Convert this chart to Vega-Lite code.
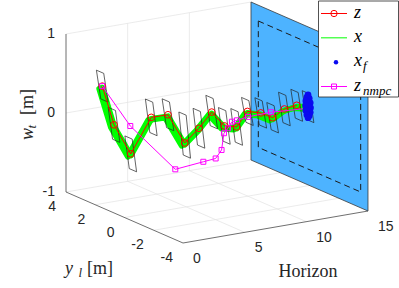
{
  "$schema": "https://vega.github.io/schema/vega-lite/v6.json",
  "width": 399,
  "height": 288,
  "autosize": {"type": "none"},
  "padding": 0,
  "config": {"view": {"stroke": null}},
  "resolve": {"scale": {"y": "independent"}},
  "datasets": {
    "z": [
      {"H":0,"Y":1.52,"W":0.54},{"H":1,"Y":1.56,"W":0.02},{"H":2,"Y":1.26,"W":-0.35},{"H":3,"Y":0.70,"W":0.13},
      {"H":4,"Y":0.40,"W":0.16},{"H":5,"Y":0.10,"W":-0.20},{"H":6,"Y":-0.03,"W":-0.03},{"H":7,"Y":-0.06,"W":0.15},
      {"H":8,"Y":-0.08,"W":-0.05},{"H":9,"Y":-0.08,"W":-0.09},{"H":10,"Y":0.03,"W":0.07},{"H":11,"Y":-0.04,"W":0.03},
      {"H":12,"Y":-0.01,"W":-0.06},{"H":13,"Y":0.03,"W":0.02},{"H":14,"Y":0.03,"W":0.04}
    ],
    "zn": [
      {"H":0,"Y":1.52,"W":0.54},{"H":2,"Y":1.29,"W":0.00},{"H":4,"Y":-0.10,"W":-0.49},{"H":6,"Y":-0.33,"W":-0.43},
      {"H":7,"Y":-0.33,"W":-0.415},{"H":8,"Y":0.11,"W":-0.37},{"H":9,"Y":0.79,"W":-0.24},{"H":10,"Y":1.36,"W":-0.25},
      {"H":11,"Y":1.93,"W":-0.24},{"H":12,"Y":2.43,"W":-0.29},{"H":13,"Y":2.52,"W":-0.28},{"H":14,"Y":1.79,"W":-0.19},
      {"H":15,"Y":0.24,"W":-0.045}
    ],
    "xg": [
      {"run":"a","H":0,"Y":1.52,"W":0.52},{"run":"a","H":1,"Y":1.56,"W":0.00},{"run":"a","H":2,"Y":1.26,"W":-0.37},{"run":"a","H":3,"Y":0.70,"W":0.11},
      {"run":"a","H":4,"Y":0.40,"W":0.14},{"run":"a","H":5,"Y":0.10,"W":-0.22},{"run":"a","H":6,"Y":-0.03,"W":-0.05},{"run":"a","H":7,"Y":-0.06,"W":0.13},
      {"run":"a","H":8,"Y":-0.08,"W":-0.07},{"run":"a","H":9,"Y":-0.08,"W":-0.11},{"run":"a","H":10,"Y":0.03,"W":0.05},{"run":"a","H":11,"Y":-0.04,"W":0.01},
      {"run":"a","H":12,"Y":-0.01,"W":-0.08},{"run":"a","H":13,"Y":0.03,"W":0.00},{"run":"a","H":14,"Y":0.03,"W":0.02},{"run":"a","H":15,"Y":0.10,"W":-0.01},
      {"run":"b","H":0,"Y":1.72,"W":0.49},{"run":"b","H":1,"Y":1.76,"W":-0.03},{"run":"b","H":2,"Y":1.46,"W":-0.40},{"run":"b","H":3,"Y":0.90,"W":0.08},
      {"run":"b","H":4,"Y":0.60,"W":0.11},{"run":"b","H":5,"Y":0.30,"W":-0.25},{"run":"b","H":6,"Y":0.17,"W":-0.08},{"run":"b","H":7,"Y":0.14,"W":0.10},
      {"run":"b","H":8,"Y":0.12,"W":-0.10},{"run":"b","H":9,"Y":0.12,"W":-0.14},{"run":"b","H":10,"Y":0.23,"W":0.02},{"run":"b","H":11,"Y":0.16,"W":-0.02},
      {"run":"b","H":12,"Y":0.19,"W":-0.11},{"run":"b","H":13,"Y":0.23,"W":-0.03},{"run":"b","H":14,"Y":0.23,"W":-0.01},{"run":"b","H":15,"Y":0.10,"W":-0.04}
    ],
    "tube": [
      {"H":0,"k":0,"Y":1.92,"W":0.71},{"H":0,"k":1,"Y":1.42,"W":0.71},{"H":0,"k":2,"Y":1.12,"W":0.37},{"H":0,"k":3,"Y":1.62,"W":0.37},
      {"H":1,"k":0,"Y":1.96,"W":0.21},{"H":1,"k":1,"Y":1.46,"W":0.21},{"H":1,"k":2,"Y":1.16,"W":-0.17},{"H":1,"k":3,"Y":1.66,"W":-0.17},
      {"H":2,"k":0,"Y":1.66,"W":-0.155},{"H":2,"k":1,"Y":1.16,"W":-0.155},{"H":2,"k":2,"Y":0.86,"W":-0.545},{"H":2,"k":3,"Y":1.36,"W":-0.545},
      {"H":3,"k":0,"Y":1.10,"W":0.33},{"H":3,"k":1,"Y":0.60,"W":0.33},{"H":3,"k":2,"Y":0.30,"W":-0.07},{"H":3,"k":3,"Y":0.80,"W":-0.07},
      {"H":4,"k":0,"Y":0.80,"W":0.33},{"H":4,"k":1,"Y":0.30,"W":0.33},{"H":4,"k":2,"Y":0.00,"W":-0.01},{"H":4,"k":3,"Y":0.50,"W":-0.01},
      {"H":5,"k":0,"Y":0.50,"W":0.16},{"H":5,"k":1,"Y":0.00,"W":0.16},{"H":5,"k":2,"Y":-0.30,"W":-0.36},{"H":5,"k":3,"Y":0.20,"W":-0.36},
      {"H":6,"k":0,"Y":0.37,"W":0.19},{"H":6,"k":1,"Y":-0.13,"W":0.19},{"H":6,"k":2,"Y":-0.43,"W":-0.25},{"H":6,"k":3,"Y":0.07,"W":-0.25},
      {"H":7,"k":0,"Y":0.34,"W":0.33},{"H":7,"k":1,"Y":-0.16,"W":0.33},{"H":7,"k":2,"Y":-0.46,"W":-0.03},{"H":7,"k":3,"Y":0.04,"W":-0.03},
      {"H":8,"k":0,"Y":0.32,"W":0.15},{"H":8,"k":1,"Y":-0.18,"W":0.15},{"H":8,"k":2,"Y":-0.48,"W":-0.25},{"H":8,"k":3,"Y":0.02,"W":-0.25},
      {"H":9,"k":0,"Y":0.32,"W":0.11},{"H":9,"k":1,"Y":-0.18,"W":0.11},{"H":9,"k":2,"Y":-0.48,"W":-0.29},{"H":9,"k":3,"Y":0.02,"W":-0.29},
      {"H":10,"k":0,"Y":0.43,"W":0.215},{"H":10,"k":1,"Y":-0.07,"W":0.215},{"H":10,"k":2,"Y":-0.37,"W":-0.075},{"H":10,"k":3,"Y":0.13,"W":-0.075},
      {"H":11,"k":0,"Y":0.36,"W":0.19},{"H":11,"k":1,"Y":-0.14,"W":0.19},{"H":11,"k":2,"Y":-0.44,"W":-0.13},{"H":11,"k":3,"Y":0.06,"W":-0.13},
      {"H":12,"k":0,"Y":0.39,"W":0.10},{"H":12,"k":1,"Y":-0.11,"W":0.10},{"H":12,"k":2,"Y":-0.41,"W":-0.22},{"H":12,"k":3,"Y":0.09,"W":-0.22},
      {"H":13,"k":0,"Y":0.43,"W":0.20},{"H":13,"k":1,"Y":-0.07,"W":0.20},{"H":13,"k":2,"Y":-0.37,"W":-0.16},{"H":13,"k":3,"Y":0.13,"W":-0.16},
      {"H":14,"k":0,"Y":0.43,"W":0.21},{"H":14,"k":1,"Y":-0.07,"W":0.21},{"H":14,"k":2,"Y":-0.37,"W":-0.13},{"H":14,"k":3,"Y":0.13,"W":-0.13},
      {"H":15,"k":0,"Y":0.50,"W":0.16},{"H":15,"k":1,"Y":0.00,"W":0.16},{"H":15,"k":2,"Y":-0.30,"W":-0.18},{"H":15,"k":3,"Y":0.20,"W":-0.18}
    ],
    "xf": [
      {"H":15,"Y":0.10,"W":0.14},{"H":15,"Y":0.02,"W":0.10},{"H":15,"Y":0.18,"W":0.10},{"H":15,"Y":-0.05,"W":0.05},
      {"H":15,"Y":0.10,"W":0.05},{"H":15,"Y":0.25,"W":0.05},{"H":15,"Y":-0.07,"W":-0.01},{"H":15,"Y":0.10,"W":-0.01},
      {"H":15,"Y":0.27,"W":-0.01},{"H":15,"Y":-0.05,"W":-0.07},{"H":15,"Y":0.10,"W":-0.07},{"H":15,"Y":0.25,"W":-0.07},
      {"H":15,"Y":0.02,"W":-0.12},{"H":15,"Y":0.18,"W":-0.12},{"H":15,"Y":0.10,"W":-0.15}
    ],
    "grid": [
      {"H1":5,"Y1":4,"W1":-1,"H2":5,"Y2":-4,"W2":-1},
      {"H1":10,"Y1":4,"W1":-1,"H2":10,"Y2":-4,"W2":-1},
      {"H1":0,"Y1":2,"W1":-1,"H2":15,"Y2":2,"W2":-1},
      {"H1":0,"Y1":0,"W1":-1,"H2":15,"Y2":0,"W2":-1},
      {"H1":0,"Y1":-2,"W1":-1,"H2":15,"Y2":-2,"W2":-1},
      {"H1":0,"Y1":4,"W1":-1,"H2":15,"Y2":4,"W2":-1},
      {"H1":5,"Y1":4,"W1":-1,"H2":5,"Y2":4,"W2":1},
      {"H1":10,"Y1":4,"W1":-1,"H2":10,"Y2":4,"W2":1},
      {"H1":0,"Y1":4,"W1":0,"H2":15,"Y2":4,"W2":0},
      {"H1":0,"Y1":4,"W1":1,"H2":15,"Y2":4,"W2":1}
    ],
    "axes": [
      {"H1":0,"Y1":4,"W1":-1,"H2":0,"Y2":4,"W2":1},
      {"H1":0,"Y1":4,"W1":-1,"H2":0,"Y2":-4,"W2":-1},
      {"H1":0,"Y1":-4,"W1":-1,"H2":15,"Y2":-4,"W2":-1}
    ],
    "plane": [{"H":15,"Y":4},{"H":15,"Y":-4}],
    "dash": [
      {"H":15,"Y":3.5,"W":0.8,"k":0},{"H":15,"Y":-3.5,"W":0.8,"k":1},
      {"H":15,"Y":-3.5,"W":-0.8,"k":2},{"H":15,"Y":3.5,"W":-0.8,"k":3}
    ],
    "wt": [{"H":0,"Y":4,"W":-1,"lab":"-1"},{"H":0,"Y":4,"W":0,"lab":"0"},{"H":0,"Y":4,"W":1,"lab":"1"}],
    "yl": [{"H":0,"Y":4,"W":-1,"lab":"4"},{"H":0,"Y":2,"W":-1,"lab":"2"},{"H":0,"Y":0,"W":-1,"lab":"0"},{"H":0,"Y":-2,"W":-1,"lab":"-2"},{"H":0,"Y":-4,"W":-1,"lab":"-4"}],
    "hz": [{"H":0,"Y":-4,"W":-1,"lab":"0"},{"H":5,"Y":-4,"W":-1,"lab":"5"},{"H":10,"Y":-4,"W":-1,"lab":"10"},{"H":15,"Y":-4,"W":-1,"lab":"15"}],
    "lblH": [{"H":7.5,"Y":-4,"W":-1}],
    "lblY": [{"H":0,"Y":0,"W":-1}],
    "lblW": [{"H":0,"Y":4,"W":0}],
    "leg": [
      {"s":"z","main":"z","sub":""},
      {"s":"x","main":"x","sub":""},
      {"s":"x_f","main":"x","sub":"f"},
      {"s":"z_nmpc","main":"z","sub":"nmpc"}
    ],
    "one": [{"a":1}]
  },
  "layer": [
    {
      "data": {"name": "grid"},
      "transform": [
        {"calculate": "66+12.333*datum.H1+14.625*(4-datum.Y1)", "as": "sx"},
        {"calculate": "192-2.133*datum.H1+6.375*(4-datum.Y1)-79*(datum.W1+1)", "as": "sy"},
        {"calculate": "66+12.333*datum.H2+14.625*(4-datum.Y2)", "as": "sx2"},
        {"calculate": "192-2.133*datum.H2+6.375*(4-datum.Y2)-79*(datum.W2+1)", "as": "sy2"}
      ],
      "mark": {"type": "rule", "stroke": "#e2e2e2", "strokeWidth": 0.7},
      "encoding": {
        "x": {"field": "sx", "type": "quantitative", "scale": {"domain": [0, 399], "nice": false, "zero": false}, "axis": null},
        "y": {"field": "sy", "type": "quantitative", "scale": {"domain": [0, 288], "nice": false, "zero": false, "reverse": true}, "axis": null},
        "x2": {"field": "sx2"},
        "y2": {"field": "sy2"}
      }
    },
    {
      "data": {"name": "axes"},
      "transform": [
        {"calculate": "66+12.333*datum.H1+14.625*(4-datum.Y1)", "as": "sx"},
        {"calculate": "192-2.133*datum.H1+6.375*(4-datum.Y1)-79*(datum.W1+1)", "as": "sy"},
        {"calculate": "66+12.333*datum.H2+14.625*(4-datum.Y2)", "as": "sx2"},
        {"calculate": "192-2.133*datum.H2+6.375*(4-datum.Y2)-79*(datum.W2+1)", "as": "sy2"}
      ],
      "mark": {"type": "rule", "stroke": "#4a4a4a", "strokeWidth": 0.8},
      "encoding": {
        "x": {"field": "sx", "type": "quantitative", "scale": {"domain": [0, 399], "nice": false, "zero": false}, "axis": null},
        "y": {"field": "sy", "type": "quantitative", "scale": {"domain": [0, 288], "nice": false, "zero": false, "reverse": true}, "axis": null},
        "x2": {"field": "sx2"},
        "y2": {"field": "sy2"}
      }
    },
    {
      "data": {"name": "plane"},
      "transform": [
        {"calculate": "66+12.333*datum.H+14.625*(4-datum.Y)", "as": "sx"},
        {"calculate": "192-2.133*datum.H+6.375*(4-datum.Y)-158", "as": "syT"},
        {"calculate": "192-2.133*datum.H+6.375*(4-datum.Y)", "as": "syB"}
      ],
      "mark": {"type": "area", "fill": "#4DB3FF", "stroke": "#3a3a3a", "strokeWidth": 0.8, "opacity": 1},
      "encoding": {
        "x": {"field": "sx", "type": "quantitative", "scale": {"domain": [0, 399], "nice": false, "zero": false}, "axis": null},
        "y": {"field": "syT", "type": "quantitative", "scale": {"domain": [0, 288], "nice": false, "zero": false, "reverse": true}, "axis": null},
        "y2": {"field": "syB"}
      }
    },
    {
      "data": {"name": "dash"},
      "transform": [
        {"calculate": "66+12.333*datum.H+14.625*(4-datum.Y)", "as": "sx"},
        {"calculate": "192-2.133*datum.H+6.375*(4-datum.Y)-79*(datum.W+1)", "as": "sy"}
      ],
      "mark": {"type": "line", "interpolate": "linear-closed", "stroke": "#1a1a1a", "strokeWidth": 1, "strokeDash": [6, 4]},
      "encoding": {
        "x": {"field": "sx", "type": "quantitative", "scale": {"domain": [0, 399], "nice": false, "zero": false}, "axis": null},
        "y": {"field": "sy", "type": "quantitative", "scale": {"domain": [0, 288], "nice": false, "zero": false, "reverse": true}, "axis": null},
        "order": {"field": "k", "type": "quantitative"}
      }
    },
    {
      "data": {"name": "xg"},
      "transform": [
        {"calculate": "66+12.333*datum.H+14.625*(4-datum.Y)", "as": "sx"},
        {"calculate": "192-2.133*datum.H+6.375*(4-datum.Y)-79*(datum.W+1)", "as": "sy"}
      ],
      "mark": {"type": "line", "stroke": "#00ff00", "strokeWidth": 6, "strokeJoin": "round", "strokeCap": "round"},
      "encoding": {
        "x": {"field": "sx", "type": "quantitative", "scale": {"domain": [0, 399], "nice": false, "zero": false}, "axis": null},
        "y": {"field": "sy", "type": "quantitative", "scale": {"domain": [0, 288], "nice": false, "zero": false, "reverse": true}, "axis": null},
        "detail": {"field": "run", "type": "nominal"},
        "order": {"field": "H", "type": "quantitative"}
      }
    },
    {
      "data": {"name": "tube"},
      "transform": [
        {"calculate": "66+12.333*datum.H+14.625*(4-datum.Y)", "as": "sx"},
        {"calculate": "192-2.133*datum.H+6.375*(4-datum.Y)-79*(datum.W+1)", "as": "sy"}
      ],
      "mark": {"type": "line", "interpolate": "linear-closed", "stroke": "#222222", "strokeWidth": 0.7},
      "encoding": {
        "x": {"field": "sx", "type": "quantitative", "scale": {"domain": [0, 399], "nice": false, "zero": false}, "axis": null},
        "y": {"field": "sy", "type": "quantitative", "scale": {"domain": [0, 288], "nice": false, "zero": false, "reverse": true}, "axis": null},
        "detail": {"field": "H", "type": "nominal"},
        "order": {"field": "k", "type": "quantitative"}
      }
    },
    {
      "data": {"name": "z"},
      "transform": [
        {"calculate": "66+12.333*datum.H+14.625*(4-datum.Y)", "as": "sx"},
        {"calculate": "192-2.133*datum.H+6.375*(4-datum.Y)-79*(datum.W+1)", "as": "sy"}
      ],
      "layer": [
        {"mark": {"type": "line", "stroke": "#ff0000", "strokeWidth": 1}},
        {"mark": {"type": "point", "shape": "circle", "filled": false, "stroke": "#ff0000", "strokeWidth": 1, "size": 45, "opacity": 1}}
      ],
      "encoding": {
        "x": {"field": "sx", "type": "quantitative", "scale": {"domain": [0, 399], "nice": false, "zero": false}, "axis": null},
        "y": {"field": "sy", "type": "quantitative", "scale": {"domain": [0, 288], "nice": false, "zero": false, "reverse": true}, "axis": null},
        "order": {"field": "H", "type": "quantitative"}
      }
    },
    {
      "data": {"name": "zn"},
      "transform": [
        {"calculate": "66+12.333*datum.H+14.625*(4-datum.Y)", "as": "sx"},
        {"calculate": "192-2.133*datum.H+6.375*(4-datum.Y)-79*(datum.W+1)", "as": "sy"}
      ],
      "layer": [
        {"mark": {"type": "line", "stroke": "#ff00ff", "strokeWidth": 1}},
        {"mark": {"type": "point", "shape": "square", "filled": false, "stroke": "#ff00ff", "strokeWidth": 1, "size": 25, "opacity": 1}}
      ],
      "encoding": {
        "x": {"field": "sx", "type": "quantitative", "scale": {"domain": [0, 399], "nice": false, "zero": false}, "axis": null},
        "y": {"field": "sy", "type": "quantitative", "scale": {"domain": [0, 288], "nice": false, "zero": false, "reverse": true}, "axis": null},
        "order": {"field": "H", "type": "quantitative"}
      }
    },
    {
      "data": {"name": "xf"},
      "transform": [
        {"calculate": "66+12.333*datum.H+14.625*(4-datum.Y)", "as": "sx"},
        {"calculate": "192-2.133*datum.H+6.375*(4-datum.Y)-79*(datum.W+1)", "as": "sy"}
      ],
      "mark": {"type": "point", "shape": "circle", "filled": true, "fill": "#0a0af0", "size": 45, "opacity": 1},
      "encoding": {
        "x": {"field": "sx", "type": "quantitative", "scale": {"domain": [0, 399], "nice": false, "zero": false}, "axis": null},
        "y": {"field": "sy", "type": "quantitative", "scale": {"domain": [0, 288], "nice": false, "zero": false, "reverse": true}, "axis": null}
      }
    },
    {
      "data": {"name": "wt"},
      "transform": [
        {"calculate": "66+12.333*datum.H+14.625*(4-datum.Y)", "as": "sx"},
        {"calculate": "192-2.133*datum.H+6.375*(4-datum.Y)-79*(datum.W+1)", "as": "sy"}
      ],
      "mark": {"type": "text", "align": "right", "baseline": "middle", "dx": -11, "dy": 0, "font": "Liberation Sans", "fontSize": 14, "fill": "#262626"},
      "encoding": {
        "x": {"field": "sx", "type": "quantitative", "scale": {"domain": [0, 399], "nice": false, "zero": false}, "axis": null},
        "y": {"field": "sy", "type": "quantitative", "scale": {"domain": [0, 288], "nice": false, "zero": false, "reverse": true}, "axis": null},
        "text": {"field": "lab", "type": "nominal"}
      }
    },
    {
      "data": {"name": "yl"},
      "transform": [
        {"calculate": "66+12.333*datum.H+14.625*(4-datum.Y)", "as": "sx"},
        {"calculate": "192-2.133*datum.H+6.375*(4-datum.Y)-79*(datum.W+1)", "as": "sy"}
      ],
      "mark": {"type": "text", "align": "right", "baseline": "middle", "dx": -10, "dy": 15, "font": "Liberation Sans", "fontSize": 14, "fill": "#262626"},
      "encoding": {
        "x": {"field": "sx", "type": "quantitative", "scale": {"domain": [0, 399], "nice": false, "zero": false}, "axis": null},
        "y": {"field": "sy", "type": "quantitative", "scale": {"domain": [0, 288], "nice": false, "zero": false, "reverse": true}, "axis": null},
        "text": {"field": "lab", "type": "nominal"}
      }
    },
    {
      "data": {"name": "hz"},
      "transform": [
        {"calculate": "66+12.333*datum.H+14.625*(4-datum.Y)", "as": "sx"},
        {"calculate": "192-2.133*datum.H+6.375*(4-datum.Y)-79*(datum.W+1)", "as": "sy"}
      ],
      "mark": {"type": "text", "align": "left", "baseline": "middle", "dx": 10, "dy": 16, "font": "Liberation Sans", "fontSize": 14, "fill": "#262626"},
      "encoding": {
        "x": {"field": "sx", "type": "quantitative", "scale": {"domain": [0, 399], "nice": false, "zero": false}, "axis": null},
        "y": {"field": "sy", "type": "quantitative", "scale": {"domain": [0, 288], "nice": false, "zero": false, "reverse": true}, "axis": null},
        "text": {"field": "lab", "type": "nominal"}
      }
    },
    {
      "data": {"name": "lblH"},
      "transform": [
        {"calculate": "66+12.333*datum.H+14.625*(4-datum.Y)", "as": "sx"},
        {"calculate": "192-2.133*datum.H+6.375*(4-datum.Y)-79*(datum.W+1)", "as": "sy"}
      ],
      "mark": {"type": "text", "text": "Horizon", "align": "center", "baseline": "alphabetic", "dx": 32.5, "dy": 50, "font": "Liberation Serif", "fontSize": 18, "fill": "#262626"},
      "encoding": {
        "x": {"field": "sx", "type": "quantitative", "scale": {"domain": [0, 399], "nice": false, "zero": false}, "axis": null},
        "y": {"field": "sy", "type": "quantitative", "scale": {"domain": [0, 288], "nice": false, "zero": false, "reverse": true}, "axis": null}
      }
    },
    {
      "data": {"name": "lblY"},
      "transform": [
        {"calculate": "66+12.333*datum.H+14.625*(4-datum.Y)", "as": "sx"},
        {"calculate": "192-2.133*datum.H+6.375*(4-datum.Y)-79*(datum.W+1)", "as": "sy"}
      ],
      "encoding": {
        "x": {"field": "sx", "type": "quantitative", "scale": {"domain": [0, 399], "nice": false, "zero": false}, "axis": null},
        "y": {"field": "sy", "type": "quantitative", "scale": {"domain": [0, 288], "nice": false, "zero": false, "reverse": true}, "axis": null}
      },
      "layer": [
        {"mark": {"type": "text", "text": "y", "align": "left", "baseline": "alphabetic", "dx": -59.5, "dy": 56.5, "font": "Times New Roman, Liberation Serif, serif", "fontStyle": "italic", "fontSize": 18, "fill": "#262626"}},
        {"mark": {"type": "text", "text": "l", "align": "left", "baseline": "alphabetic", "dx": -46, "dy": 59.5, "font": "Times New Roman, Liberation Serif, serif", "fontStyle": "italic", "fontSize": 13, "fill": "#262626"}},
        {"mark": {"type": "text", "text": "[m]", "align": "left", "baseline": "alphabetic", "dx": -37.5, "dy": 56.5, "font": "Liberation Serif", "fontSize": 18, "fill": "#262626"}}
      ]
    },
    {
      "data": {"name": "lblW"},
      "transform": [
        {"calculate": "66+12.333*datum.H+14.625*(4-datum.Y)", "as": "sx"},
        {"calculate": "192-2.133*datum.H+6.375*(4-datum.Y)-79*(datum.W+1)", "as": "sy"}
      ],
      "encoding": {
        "x": {"field": "sx", "type": "quantitative", "scale": {"domain": [0, 399], "nice": false, "zero": false}, "axis": null},
        "y": {"field": "sy", "type": "quantitative", "scale": {"domain": [0, 288], "nice": false, "zero": false, "reverse": true}, "axis": null}
      },
      "layer": [
        {"mark": {"type": "text", "text": "w", "angle": 270, "align": "left", "baseline": "alphabetic", "dx": -27, "dy": -33, "font": "Times New Roman, Liberation Serif, serif", "fontStyle": "italic", "fontSize": 18, "fill": "#262626"}},
        {"mark": {"type": "text", "text": "t", "angle": 270, "align": "left", "baseline": "alphabetic", "dx": -15.5, "dy": -30, "font": "Times New Roman, Liberation Serif, serif", "fontStyle": "italic", "fontSize": 13, "fill": "#262626"}},
        {"mark": {"type": "text", "text": "[m]", "angle": 270, "align": "left", "baseline": "alphabetic", "dx": -2, "dy": -33, "font": "Liberation Serif", "fontSize": 18, "fill": "#262626"}}
      ]
    },
    {
      "data": {"name": "one"},
      "mark": {"type": "rect", "fill": "#ffffff", "stroke": "#262626", "strokeWidth": 0.8},
      "encoding": {"x": {"value": 318.5}, "x2": {"value": 398.5}, "y": {"value": 1}, "y2": {"value": 97}}
    },
    {
      "data": {"name": "leg"},
      "encoding": {
        "y": {"field": "s", "type": "nominal", "scale": {"type": "point", "domain": ["z", "x", "x_f", "z_nmpc"], "range": [13.5, 86.5], "padding": 0}, "axis": null}
      },
      "layer": [
        {
          "transform": [{"filter": "datum.s !== 'x_f'"}],
          "mark": {"type": "rule", "strokeWidth": 1},
          "encoding": {
            "x": {"value": 321}, "x2": {"value": 347},
            "stroke": {"field": "s", "type": "nominal", "scale": {"domain": ["z", "x", "x_f", "z_nmpc"], "range": ["#ff0000", "#00ff00", "#0a0af0", "#ff00ff"]}, "legend": null}
          }
        },
        {
          "transform": [{"filter": "datum.s === 'z'"}],
          "mark": {"type": "point", "shape": "circle", "filled": false, "stroke": "#ff0000", "strokeWidth": 1, "size": 40, "opacity": 1},
          "encoding": {"x": {"value": 334}}
        },
        {
          "transform": [{"filter": "datum.s === 'x_f'"}],
          "mark": {"type": "point", "shape": "circle", "filled": true, "fill": "#0a0af0", "size": 20, "opacity": 1},
          "encoding": {"x": {"value": 336}}
        },
        {
          "transform": [{"filter": "datum.s === 'z_nmpc'"}],
          "mark": {"type": "point", "shape": "square", "filled": false, "stroke": "#ff00ff", "strokeWidth": 1, "size": 25, "opacity": 1},
          "encoding": {"x": {"value": 334}}
        },
        {
          "mark": {"type": "text", "align": "left", "baseline": "alphabetic", "dy": 4, "font": "Times New Roman, Liberation Serif, serif", "fontStyle": "italic", "fontSize": 18, "fill": "#000000"},
          "encoding": {"x": {"value": 354}, "text": {"field": "main", "type": "nominal"}}
        },
        {
          "transform": [{"filter": "datum.sub !== ''"}],
          "mark": {"type": "text", "align": "left", "baseline": "alphabetic", "dy": 8, "font": "Times New Roman, Liberation Serif, serif", "fontStyle": "italic", "fontSize": 13, "fill": "#000000"},
          "encoding": {"x": {"value": 363}, "text": {"field": "sub", "type": "nominal"}}
        }
      ]
    }
  ]
}
